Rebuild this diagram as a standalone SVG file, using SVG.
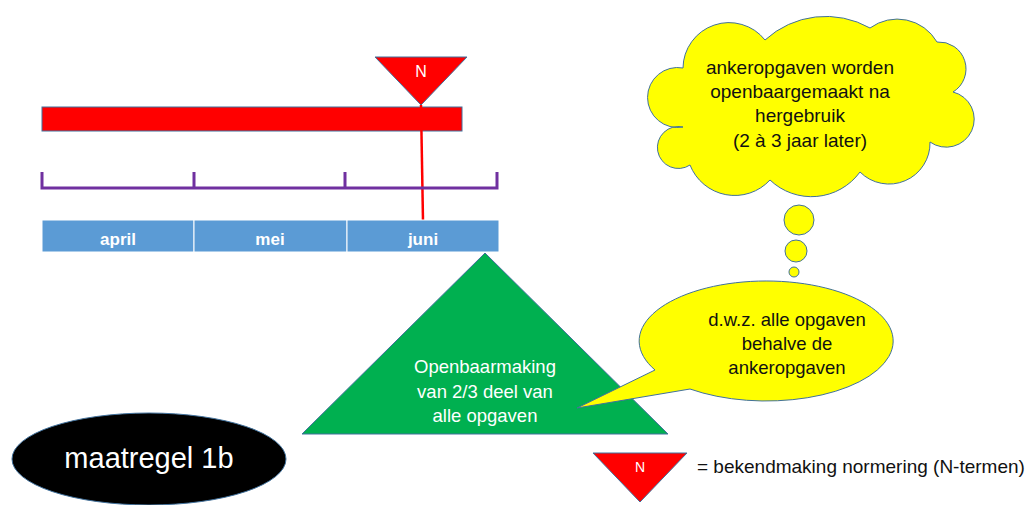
<svg xmlns="http://www.w3.org/2000/svg" width="1031" height="505" viewBox="0 0 1031 505">
<style>
.t{font-family:"Liberation Sans",Arial,sans-serif;font-size:18.5px;text-anchor:middle}
.w{fill:#ffffff}
.k{fill:#111111}
.edge{stroke:#41719C;stroke-width:1}
.month{fill:#5B9BD5;stroke:#ffffff;stroke-width:1}
.ml{font-family:"Liberation Sans",Arial,sans-serif;font-size:17px;font-weight:bold;fill:#ffffff;text-anchor:middle}
</style>
<rect width="1031" height="505" fill="#ffffff"/>
<g id="bar"><rect x="42" y="107" width="420" height="24" fill="#FF0000" class="edge"/></g>
<g id="connectors">
<line x1="421" y1="105" x2="423" y2="221" stroke="#FF0000" stroke-width="2.5"/>
</g>
<g id="nmarker">
<polygon points="375,57 467,57 421,105" fill="#FF0000" class="edge"/>
<text x="421" y="77" class="t w" style="font-size:16px">N</text>
</g>
<g id="bracket" fill="none" stroke="#7030A0" stroke-width="3">
<path d="M42,172 V188 H497 V172 M194,172 V188 M345,172 V188"/>
</g>
<g id="months">
<rect x="42" y="220" width="152" height="32" class="month"/>
<rect x="194" y="220" width="153" height="32" class="month"/>
<rect x="347" y="220" width="152" height="32" class="month"/>
<text x="118" y="245" class="ml">april</text>
<text x="270" y="245" class="ml">mei</text>
<text x="423" y="245" class="ml">juni</text>
</g>
<g id="triangle">
<polygon points="485,253 668,434 302,434" fill="#00B050" class="edge"/>
<text x="485" y="373" class="t w">Openbaarmaking</text>
<text x="485" y="398" class="t w">van 2/3 deel van</text>
<text x="485" y="422" class="t w">alle opgaven</text>
</g>
<g id="speech">
<path d="M655,370 L577,408 L690,389 A127,60 0 1 0 655,370 Z" fill="#FFFF00" class="edge"/>
<text x="787" y="326" class="t k">d.w.z. alle opgaven</text>
<text x="787" y="350" class="t k">behalve de</text>
<text x="787" y="374" class="t k">ankeropgaven</text>
</g>
<g id="cloud">
<path d="M683,68 A46,46 0 0 1 765,40 A90,90 0 0 1 870,28 A46,46 0 0 1 937,42 A27,27 0 0 1 953,92 A28,28 0 1 1 930,142 A41,41 0 0 1 860,172 A60,60 0 0 1 770,180 A48,48 0 0 1 690,165 A21,21 0 1 1 683,127 A30,30 0 1 1 683,68 Z" fill="#FFFF00" class="edge"/>
<circle cx="799" cy="220" r="15" fill="#FFFF00" class="edge"/>
<circle cx="796" cy="251" r="11" fill="#FFFF00" class="edge"/>
<circle cx="794" cy="272" r="5" fill="#FFFF00" class="edge"/>
<text x="800" y="74" class="t k" style="font-size:19px">ankeropgaven worden</text>
<text x="800" y="98" class="t k" style="font-size:19px">openbaargemaakt na</text>
<text x="800" y="122" class="t k" style="font-size:19px">hergebruik</text>
<text x="800" y="147" class="t k" style="font-size:19px">(2 à 3 jaar later)</text>
</g>
<g id="maatregel">
<ellipse cx="149" cy="459" rx="137" ry="46" fill="#000000" class="edge"/>
<text x="149" y="468" class="t w" style="font-size:29px">maatregel 1b</text>
</g>
<g id="legend">
<polygon points="593,453 687,453 640,502" fill="#FF0000" class="edge"/>
<text x="640" y="472" class="t w" style="font-size:14px">N</text>
<text x="697" y="473" class="t k" style="text-anchor:start;font-size:19px">= bekendmaking normering (N-termen)</text>
</g>
</svg>
